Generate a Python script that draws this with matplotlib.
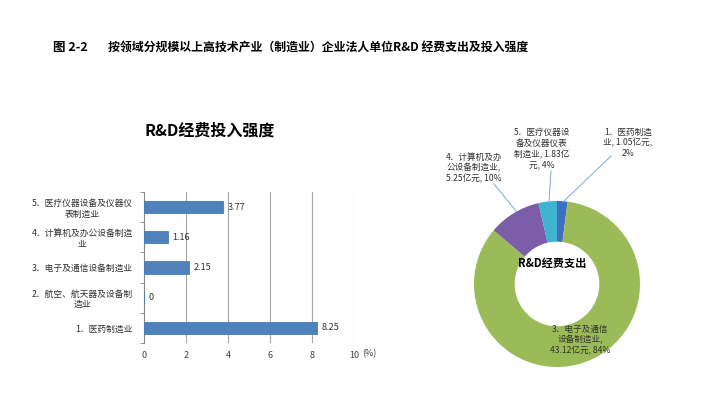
import numpy as np
import matplotlib.pyplot as plt

plt.rcParams['font.family'] = ['Noto Sans CJK SC', 'DejaVu Sans']

# bar chart: R&D intensity (%)
bar_labels = ['1．医药制造业', '2．航空、航天器及设备制\n造业', '3．电子及通信设备制造业',
              '4．计算机及办公设备制造\n业', '5．医疗仪器设备及仪器仪\n表制造业']
intensity = [8.25, 0, 2.15, 1.16, 3.77]
x_ticks = [0, 2, 4, 6, 8, 10]

# donut: R&D spending (100 million yuan)
spend_names = ['1．医药制造业', '2．航空、航天器及设备制造业', '3．电子及通信设备制造业',
               '4．计算机及办公设备制造业', '5．医疗仪器设备及仪器仪表制造业']
spend = [1.05, 0, 43.12, 5.25, 1.83]
spend_pct = ['2%', '0%', '84%', '10%', '4%']
spend_colors = ['#3F6FBF', '#C0504D', '#9BBB59', '#7B5EA7', '#3FB3D0']

W, H = 703, 399
fig = plt.figure(figsize=(W / 100, H / 100), dpi=100)
fig.patch.set_facecolor('white')

fig.text(53 / W, 1 - 48 / H, '图 2-2', fontsize=9, fontweight='bold', va='center', color='black')
fig.text(108 / W, 1 - 48 / H, '按领域分规模以上高技术产业（制造业）企业法人单位R&D 经费支出及投入强度',
         fontsize=8.6, fontweight='bold', va='center', color='black')

# ---- bar chart
ax = fig.add_axes([144 / W, 1 - 343 / H, (354 - 144) / W, (343 - 192) / H])
y = np.arange(len(bar_labels))
ax.barh(y, intensity, height=0.4, color='#4F81BD', edgecolor='#4A7AB5', linewidth=0.6, zorder=3)
for yi, v in zip(y, intensity):
    ax.text(v + 0.2, yi, f'{v:g}' if v == 0 else f'{v:.2f}', va='center', ha='left',
            fontsize=6.5, color='#303030')
ax.set_xlim(0, 10)
ax.set_ylim(-0.5, len(bar_labels) - 0.5)
ax.set_xticks(x_ticks)
ax.set_xticklabels([str(t) for t in x_ticks], fontsize=6.5, color='#404040')
ax.tick_params(axis='x', length=0, pad=6)
ax.set_yticks(y)
ax.set_yticklabels(bar_labels, fontsize=6.3, color='#303030', multialignment='center')
ax.set_yticks(np.arange(-0.5, len(bar_labels), 1), minor=True)
ax.tick_params(axis='y', which='major', length=0, pad=8)
ax.tick_params(axis='y', which='minor', length=3, color='#888888')
ax.grid(axis='x', color='#A6A6A6', linewidth=0.8, zorder=0)
for s in ['top', 'right', 'bottom']:
    ax.spines[s].set_visible(False)
ax.spines['left'].set_color('#888888')
fig.text(362 / W, 1 - 354 / H, '(%)', fontsize=6.5, color='#404040', va='center', ha='left')
fig.text(210 / W, 1 - 131 / H, 'R&D经费投入强度', fontsize=11.5, fontweight='bold',
         ha='center', va='center', color='black')

# ---- donut chart (axes in pixel units, y up)
ax2 = fig.add_axes([420 / W, 0, (W - 420) / W, (H - 110) / H])
cx, cy, R = 557, H - 284, 83
keep = [i for i, v in enumerate(spend) if v > 0]
ax2.pie([spend[i] for i in keep], colors=[spend_colors[i] for i in keep],
        startangle=90, counterclock=False, center=(cx, cy), radius=R,
        wedgeprops=dict(width=R * 0.49, edgecolor='none'), frame=True)
ax2.set_xlim(420, W)
ax2.set_ylim(0, H - 110)
ax2.set_aspect('equal')
ax2.axis('off')

lab = dict(fontsize=6.2, color='#303030', ha='center', va='center', linespacing=1.25)
ax2.text(628, H - 143, '1．医药制造\n业, %.2f亿元,\n%s' % (spend[0], spend_pct[0]), **lab)
ax2.text(542, H - 149, '5．医疗仪器设\n备及仪器仪表\n制造业, %.2f亿\n元, %s' % (spend[4], spend_pct[4]), **lab)
ax2.text(474, H - 168, '4．计算机及办\n公设备制造业,\n%.2f亿元, %s' % (spend[3], spend_pct[3]), **lab)
ax2.text(580, H - 340, '3．电子及通信\n设备制造业,\n%.2f亿元, %s' % (spend[2], spend_pct[2]), **lab)
for (x0, y0), (x1, y1) in [((563, 202), (611, 156)), ((549, 202), (551, 171)),
                           ((516, 211), (494, 184))]:
    ax2.plot([x0, x1], [H - y0, H - y1], color='#7FA7D8', linewidth=0.7)
ax2.text(552, H - 263, 'R&D经费支出', fontsize=8, fontweight='bold', color='black',
         ha='center', va='center')

fig.savefig('out.png', dpi=100)
